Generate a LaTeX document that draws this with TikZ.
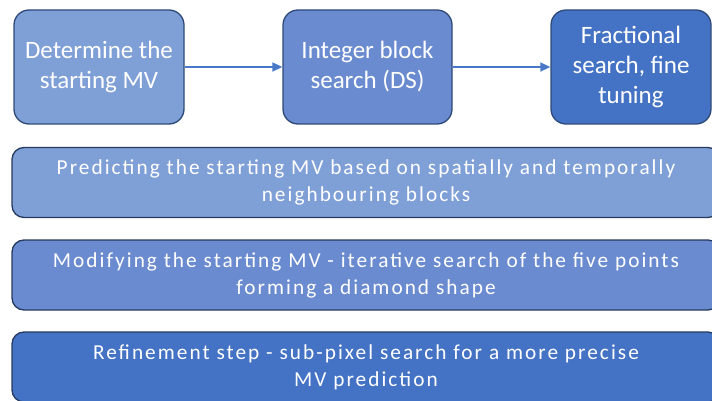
\documentclass[tikz,border=0pt]{standalone}
\usepackage{fontspec}
\setmainfont{Carlito}
\newfontfamily\spacedfont[LetterSpace=9.5]{Carlito}
\usetikzlibrary{arrows.meta}
\definecolor{steplight}{HTML}{7F9FD7}
\definecolor{stepmid}{HTML}{6A8BCF}
\definecolor{stepdark}{HTML}{4472C4}
\definecolor{stepedge}{HTML}{2F4A78}
\definecolor{arrowblue}{HTML}{4A78C8}

\begin{document}
\begin{tikzpicture}[x=1pt,y=-1pt,
  stagebox/.style={draw=stepedge,line width=1.3pt,rounded corners=15pt,
    text=white,align=center,font=\fontsize{25}{30}\selectfont,
    minimum height=114pt,inner sep=0pt},
  notebox/.style={draw=stepedge!80!black,line width=1.3pt,rounded corners=12pt,
    text=white,align=center,font=\spacedfont\fontsize{21.3}{27}\selectfont,
    minimum width=708pt,minimum height=70pt,inner sep=0pt},
  flow/.style={-{Triangle[length=10pt,width=9pt]},arrowblue,line width=1.5pt}]
\useasboundingbox (0,0) rectangle (712,401);
\clip (0,0) rectangle (712,401);
% three stages
\node[stagebox,fill=steplight,minimum width=170pt] (determine) at (99,67)
  {Determine the\\starting MV};
\node[stagebox,fill=stepmid,minimum width=169pt] (integer) at (367.5,67)
  {Integer block\\search (DS)};
\node[stagebox,fill=stepdark,minimum width=160pt] (fractional) at (631,67)
  {Fractional\\search, fine\\tuning};
% connectors
\draw[flow] (determine) -- (integer);
\draw[flow] (integer) -- (fractional);
% descriptions
\node[notebox,fill=steplight] (predict) at (366,182.5)
  {Predicting the starting MV based on spatially and temporally\\neighbouring blocks};
\node[notebox,fill=stepmid] (modify) at (366,275)
  {Modifying the starting MV - iterative search of the five points\\forming a diamond shape};
\node[notebox,fill=stepdark] (refine) at (366,367)
  {Refinement step - sub-pixel search for a more precise\\MV prediction};
\end{tikzpicture}
\end{document}
